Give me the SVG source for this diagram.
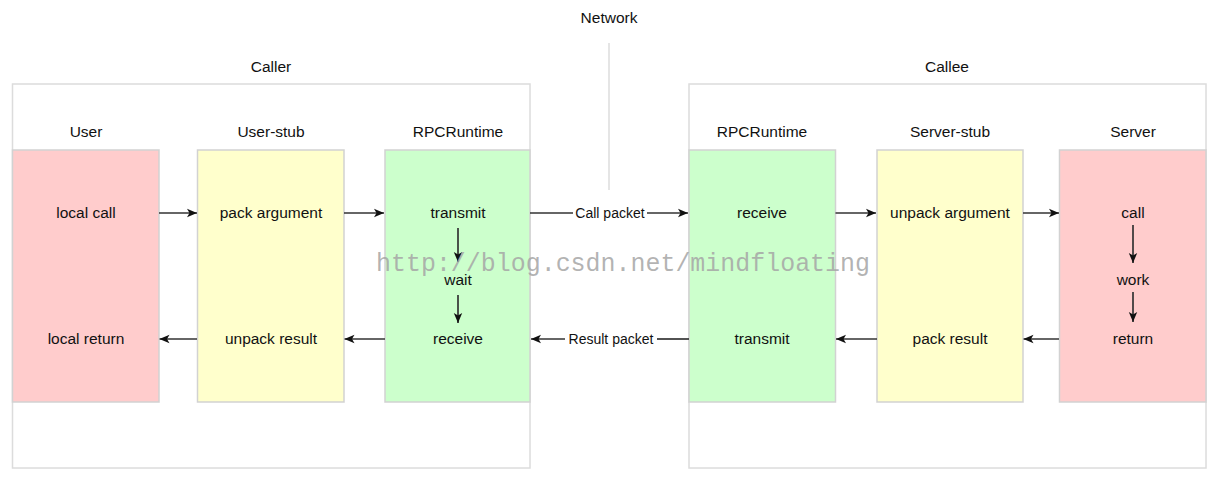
<svg xmlns="http://www.w3.org/2000/svg" width="1221" height="477" viewBox="0 0 1221 477">
<defs>
<style>
text{font-family:"Liberation Sans",Arial,Helvetica,sans-serif;fill:#111;text-anchor:middle}
.t{font-size:15.5px}
.s{font-size:14px}
.outer{fill:#fff;stroke:#dcdcdc;stroke-width:1.5}
.node{stroke:#d2d2d2;stroke-width:1.5}
.red{fill:#ffcccc}
.yel{fill:#ffffcc}
.grn{fill:#ccffcc}
.c{stroke:#333;stroke-width:1.7;fill:none}
.a{marker-end:url(#arr)}
.wm{font-family:"Liberation Mono","Courier New",monospace;font-size:26px;fill:#a6a6a6;fill-opacity:0.85;text-anchor:start}
</style>
<marker id="arr" viewBox="0 0 10 10" refX="10" refY="5" markerUnits="userSpaceOnUse" markerWidth="10" markerHeight="10" orient="auto">
<path d="M0,0.8 L10,5 L0,9.2 L2.5,5 z" fill="#111"/>
</marker>
</defs>
<rect width="1221" height="477" fill="#fff"/>

<g id="network">
<line x1="609" y1="43" x2="609" y2="190" stroke="#dcdcdc" stroke-width="1.5"/>
<text class="t" x="609" y="22.5">Network</text>
</g>

<g id="caller">
<rect class="outer" x="12.5" y="84" width="517.5" height="384"/>
<text class="t" x="271" y="71.5">Caller</text>
</g>
<g id="callee">
<rect class="outer" x="689" y="84" width="517" height="384"/>
<text class="t" x="947" y="71.5">Callee</text>
</g>

<g id="user">
<text class="t" x="86" y="137">User</text>
<rect class="node red" x="12.5" y="150" width="146.5" height="252"/>
<text class="t" x="86" y="218">local call</text>
<text class="t" x="86" y="344">local return</text>
</g>
<g id="user-stub">
<text class="t" x="271" y="137">User-stub</text>
<rect class="node yel" x="197.5" y="150" width="146.5" height="252"/>
<text class="t" x="271" y="218">pack argument</text>
<text class="t" x="271" y="344">unpack result</text>
</g>
<g id="rpc-caller">
<text class="t" x="458" y="137">RPCRuntime</text>
<rect class="node grn" x="385" y="150" width="145" height="252"/>
<text class="t" x="458" y="218">transmit</text>
<text class="t" x="458" y="285">wait</text>
<text class="t" x="458" y="344">receive</text>
</g>
<g id="rpc-callee">
<text class="t" x="762" y="137">RPCRuntime</text>
<rect class="node grn" x="689" y="150" width="146.5" height="252"/>
<text class="t" x="762" y="218">receive</text>
<text class="t" x="762" y="344">transmit</text>
</g>
<g id="server-stub">
<text class="t" x="950" y="137">Server-stub</text>
<rect class="node yel" x="877" y="150" width="146" height="252"/>
<text class="t" x="950" y="218">unpack argument</text>
<text class="t" x="950" y="344">pack result</text>
</g>
<g id="server">
<text class="t" x="1133" y="137">Server</text>
<rect class="node red" x="1059.5" y="150" width="146.5" height="252"/>
<text class="t" x="1133" y="218">call</text>
<text class="t" x="1133" y="285">work</text>
<text class="t" x="1133" y="344">return</text>
</g>

<g id="connectors">
<line class="c a" x1="159" y1="213" x2="197" y2="213"/>
<line class="c a" x1="344" y1="213" x2="384" y2="213"/>
<line class="c" x1="530" y1="213" x2="573" y2="213"/>
<line class="c a" x1="647" y1="213" x2="688" y2="213"/>
<text class="s" x="610" y="218">Call packet</text>
<line class="c a" x1="835.5" y1="213" x2="876" y2="213"/>
<line class="c a" x1="1023" y1="213" x2="1059" y2="213"/>

<line class="c a" x1="1059" y1="339" x2="1023.5" y2="339"/>
<line class="c a" x1="877" y1="339" x2="836" y2="339"/>
<line class="c" x1="689" y1="339" x2="657" y2="339"/>
<line class="c a" x1="565" y1="339" x2="531" y2="339"/>
<text class="s" x="611" y="344">Result packet</text>
<line class="c a" x1="385" y1="339" x2="344.5" y2="339"/>
<line class="c a" x1="197" y1="339" x2="159.5" y2="339"/>

<line class="c a" x1="458" y1="228" x2="458" y2="262"/>
<line class="c a" x1="458" y1="295" x2="458" y2="323"/>
<line class="c a" x1="1133" y1="225" x2="1133" y2="263"/>
<line class="c a" x1="1133" y1="292" x2="1133" y2="322"/>
</g>

<text class="wm" x="376" y="271" textLength="494" lengthAdjust="spacingAndGlyphs">http://blog.csdn.net/mindfloating</text>
</svg>
